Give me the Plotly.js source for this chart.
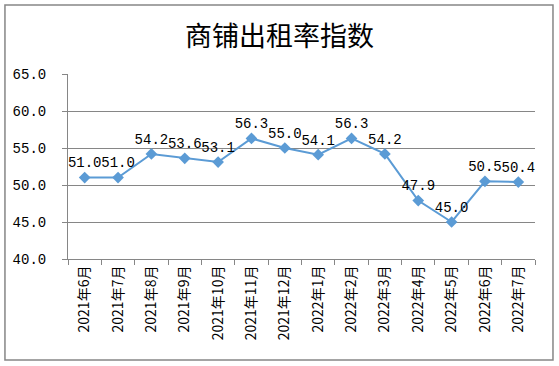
<!DOCTYPE html>
<html><head><meta charset="utf-8">
<script src="https://cdn.plot.ly/plotly-3.0.1.min.js"></script>
<style>body{margin:0;background:#fff}#c{width:559px;height:366px}</style>
</head><body><div id="c"></div>
<script>
var categories = ["2021年6月","2021年7月","2021年8月","2021年9月","2021年10月","2021年11月","2021年12月","2022年1月","2022年2月","2022年3月","2022年4月","2022年5月","2022年6月","2022年7月"];
var values = [51.0,51.0,54.2,53.6,53.1,56.3,55.0,54.1,56.3,54.2,47.9,45.0,50.5,50.4];
var yTicks = [40,45,50,55,60,65];
var chartTitle = "商铺出租率指数";

var numFont = "Liberation Mono, Noto Sans CJK SC, monospace";
var trace = {
  x: categories, y: values, type: "scatter", mode: "lines+markers+text",
  line: {color: "#5B9BD5", width: 2},
  marker: {symbol: "diamond", size: 9, color: "#5B9BD5"},
  text: values.map(function(v){return v.toFixed(1);}),
  textposition: "top center",
  textfont: {family: numFont, size: 14, color: "#000"},
  cliponaxis: false, hoverinfo: "none"
};
var layout = {
  width: 559, height: 366,
  margin: {l: 68, r: 24, t: 74, b: 107},
  paper_bgcolor: "#fff", plot_bgcolor: "#fff",
  showlegend: false,
  title: {text: chartTitle, x: 0.5, xref: "container", xanchor: "center", y: 0.9, yref: "container", yanchor: "middle",
    font: {family: "Noto Sans CJK SC", size: 27, color: "#000", weight: 400}},
  xaxis: {type: "category", tickson: "boundaries", ticks: "outside", ticklen: 5, tickcolor: "#868686",
    showline: true, linecolor: "#868686", showgrid: false, tickangle: -90,
    tickfont: {family: "Noto Sans CJK SC", size: 14, color: "#000"}, range: [-0.5, 13.5], fixedrange: true},
  yaxis: {range: [40, 65], tickvals: yTicks, ticktext: yTicks.map(function(v){return v.toFixed(1);}),
    ticks: "outside", ticklen: 5, tickcolor: "#868686", showline: true, linecolor: "#868686",
    ticklabelstandoff: 13,
    showgrid: true, gridcolor: "#868686", gridwidth: 1, zeroline: false,
    tickfont: {family: numFont, size: 14, color: "#000"}, fixedrange: true},
  shapes: [{type: "rect", xref: "paper", yref: "paper", x0: -0.135, x1: 1.0385, y0: -0.546, y1: 1.373,
    line: {color: "#868686", width: 1.5}}]
};
Plotly.newPlot("c", [trace], layout, {staticPlot: true});
</script></body></html>
